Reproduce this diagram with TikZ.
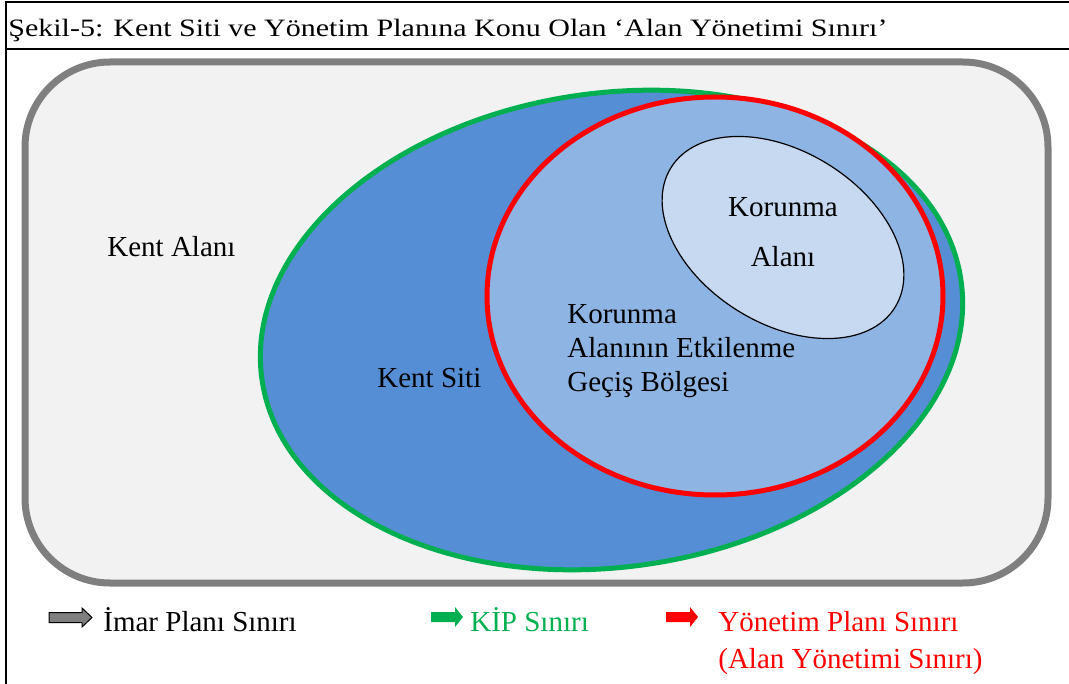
\documentclass[tikz,border=0pt]{standalone}
\usepackage{fontspec}
\setmainfont{Liberation Serif}

\definecolor{kentfill}{RGB}{242,242,242}
\definecolor{kentline}{RGB}{127,127,127}
\definecolor{sitifill}{RGB}{85,142,213}
\definecolor{kipgreen}{RGB}{0,176,80}
\definecolor{gecisfill}{RGB}{142,180,227}
\definecolor{korumafill}{RGB}{198,217,241}

\tikzset{every picture/.style={line width=0.75pt}}
\tikzset{
  txt/.style={inner sep=0pt, font=\fontsize{29}{34}\selectfont},
}

\begin{document}
\begin{tikzpicture}[x=1pt,y=1pt,yscale=-1]
\useasboundingbox (0,0) rectangle (1069,684);

%Frame
\draw [line width=2pt] (6,684) -- (6,2) -- (1069,2) ;
\draw [line width=2pt] (6,49) -- (1069,49) ;

%Shape: Rounded Rect
\draw [color=kentline, fill=kentfill, line width=7pt, rounded corners=85pt] (25,62) rectangle (1048,583) ;
%Shape: Ellipse
\draw [color=kipgreen, fill=sitifill, line width=5pt, rotate around={-8:(611.5,330)}] (611.5,330) ellipse (353 and 237) ;
%Shape: Ellipse
\draw [color=red, fill=gecisfill, line width=5pt] (715,296) ellipse (228 and 199) ;
%Shape: Ellipse
\draw [color=black, fill=korumafill, line width=1.2pt, rotate around={32:(783,237.5)}] (783,237.5) ellipse (132 and 86) ;

% Text Node
\node (baslik) [anchor=base west, inner sep=0pt, font=\fontsize{25}{30}\selectfont] at (8,37) {\scalebox{1.2}[1]{Şekil-5: Kent Siti ve Yönetim Planına Konu Olan ‘Alan Yönetimi Sınırı’}};
% Text Node
\node (kentalani) [txt, anchor=base west] at (107,257) {Kent Alanı};
% Text Node
\node (kentsiti) [txt, anchor=base west] at (377,388) {Kent Siti};
% Text Node
\node (koruma) [txt, anchor=base, align=center, font=\fontsize{29}{50}\selectfont] at (783,267) {Korunma\\Alanı};
% Text Node
\node (gecis) [txt, anchor=base west, align=left] at (567,392) {Korunma\\Alanının Etkilenme\\Geçiş Bölgesi};

%Legend
\coordinate (imarok) at (49,617.5);
\draw [fill=kentline, draw=black, line width=1pt] (imarok) ++(0,-5) -- ++(33,0) -- ++(0,-4.5) -- ++(10,9.5) -- ++(-10,9.5) -- ++(0,-4.5) -- ++(-33,0) -- cycle ;
\node (imar) [txt, anchor=base west] at (103,631) {İmar Planı Sınırı};
\coordinate (kipok) at (431,617);
\draw [fill=kipgreen, draw=none] (kipok) ++(0,-5) -- ++(24,0) -- ++(0,-5) -- ++(8,10) -- ++(-8,10) -- ++(0,-5) -- ++(-24,0) -- cycle ;
\node (kip) [txt, anchor=base west, text=kipgreen] at (470,631) {KİP Sınırı};
\coordinate (yonok) at (666,617);
\draw [fill=red, draw=none] (yonok) ++(0,-5) -- ++(24,0) -- ++(0,-5) -- ++(8,10) -- ++(-8,10) -- ++(0,-5) -- ++(-24,0) -- cycle ;
\node (yonetim) [txt, anchor=base west, align=left, text=red, font=\fontsize{29}{37}\selectfont] at (718,668) {Yönetim Planı Sınırı\\(Alan Yönetimi Sınırı)};

\end{tikzpicture}
\end{document}
